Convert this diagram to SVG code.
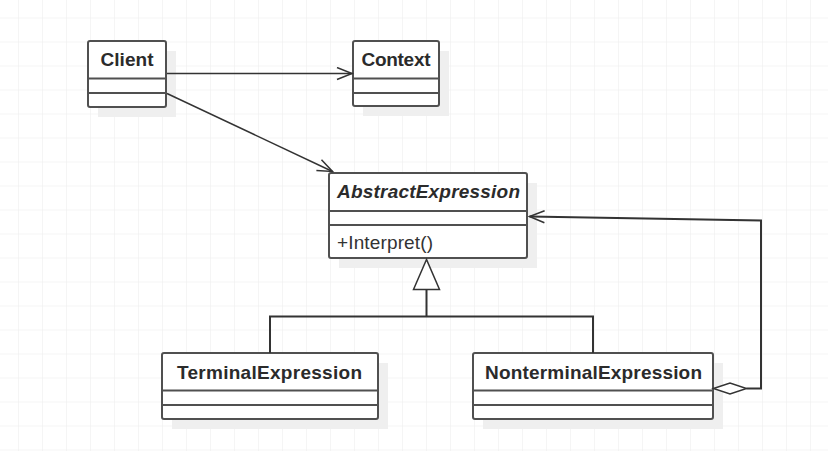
<svg xmlns="http://www.w3.org/2000/svg" width="828" height="451" viewBox="0 0 828 451">
  <defs>
    <pattern id="grid" x="18" y="17.5" width="24" height="24" patternUnits="userSpaceOnUse">
      <path d="M0 0 H24 M0 0 V24" fill="none" stroke="#ececec" stroke-width="1"/>
    </pattern>
    <marker id="open" markerWidth="18" markerHeight="14" refX="16" refY="7" orient="auto" markerUnits="userSpaceOnUse">
      <path d="M1 1 L16 7 L1 13" fill="none" stroke="#333" stroke-width="1.5"/>
    </marker>
  </defs>
  <style>
    .shadow { fill: #efefef; stroke: none; }
    .box { fill: #ffffff; stroke: #505050; stroke-width: 2; }
    .sep { stroke: #505050; stroke-width: 2; }
    .name { font-family: "Liberation Sans", Arial, sans-serif; font-weight: bold; font-size: 19px; fill: #2b2b2b; text-anchor: middle; }
    .abs { font-style: italic; }
    .op { font-family: "Liberation Sans", Arial, sans-serif; font-size: 19px; fill: #333; }
    .conn { fill: none; stroke: #333; stroke-width: 1.5; }
    .inh { fill: none; stroke: #333; stroke-width: 2; }
  </style>
  <rect width="828" height="451" fill="#ffffff"/>
  <rect width="828" height="451" fill="url(#grid)"/>

  <g id="Client">
    <rect class="shadow" x="98" y="51" width="78" height="66"/>
    <rect class="box" x="88" y="41" width="78" height="66" rx="2"/>
    <line class="sep" x1="88" y1="78.5" x2="166" y2="78.5"/>
    <line class="sep" x1="88" y1="93" x2="166" y2="93"/>
    <text class="name" x="127" y="66" textLength="53" lengthAdjust="spacing">Client</text>
  </g>

  <g id="Context">
    <rect class="shadow" x="363" y="51" width="86" height="65"/>
    <rect class="box" x="353" y="41" width="86" height="65" rx="2"/>
    <line class="sep" x1="353" y1="78.5" x2="439" y2="78.5"/>
    <line class="sep" x1="353" y1="93" x2="439" y2="93"/>
    <text class="name" x="396" y="66" textLength="69" lengthAdjust="spacing">Context</text>
  </g>

  <g id="AbstractExpression">
    <rect class="shadow" x="339" y="183" width="198" height="85"/>
    <rect class="box" x="329" y="173" width="198" height="85" rx="2"/>
    <line class="sep" x1="329" y1="211" x2="527" y2="211"/>
    <line class="sep" x1="329" y1="225" x2="527" y2="225"/>
    <text class="name abs" x="428.5" y="198" textLength="183" lengthAdjust="spacing">AbstractExpression</text>
    <text class="op" x="337" y="248.5" textLength="96" lengthAdjust="spacing">+Interpret()</text>
  </g>

  <g id="TerminalExpression">
    <rect class="shadow" x="172" y="363" width="216" height="66"/>
    <rect class="box" x="162" y="353" width="216" height="66" rx="2"/>
    <line class="sep" x1="162" y1="390.5" x2="378" y2="390.5"/>
    <line class="sep" x1="162" y1="405" x2="378" y2="405"/>
    <text class="name" x="269.5" y="378.5" textLength="185" lengthAdjust="spacing">TerminalExpression</text>
  </g>

  <g id="NonterminalExpression">
    <rect class="shadow" x="483" y="363" width="240" height="66"/>
    <rect class="box" x="473" y="353" width="240" height="66" rx="2"/>
    <line class="sep" x1="473" y1="390.5" x2="713" y2="390.5"/>
    <line class="sep" x1="473" y1="405" x2="713" y2="405"/>
    <text class="name" x="593.5" y="378.5" textLength="217" lengthAdjust="spacing">NonterminalExpression</text>
  </g>

  <g id="connectors">
    <line class="conn" x1="167" y1="73.5" x2="352" y2="73.5" marker-end="url(#open)"/>
    <line class="conn" x1="167" y1="93.5" x2="332.5" y2="171.5" marker-end="url(#open)"/>
    <polyline class="inh" points="270,353 270,316.5 593,316.5 593,353"/>
    <line class="inh" x1="426.5" y1="316.5" x2="426.5" y2="289.5"/>
    <polygon points="426.5,259.5 413.5,289.5 439.5,289.5" fill="#ffffff" stroke="#333" stroke-width="1.5"/>
    <polygon points="713.5,388.5 730,383 746.5,388.5 730,394" fill="#ffffff" stroke="#333" stroke-width="1.5"/>
    <polyline class="inh" points="746.5,388.5 761,388.5 761,220.5 529.5,216.5" marker-end="url(#open)"/>
  </g>
</svg>
